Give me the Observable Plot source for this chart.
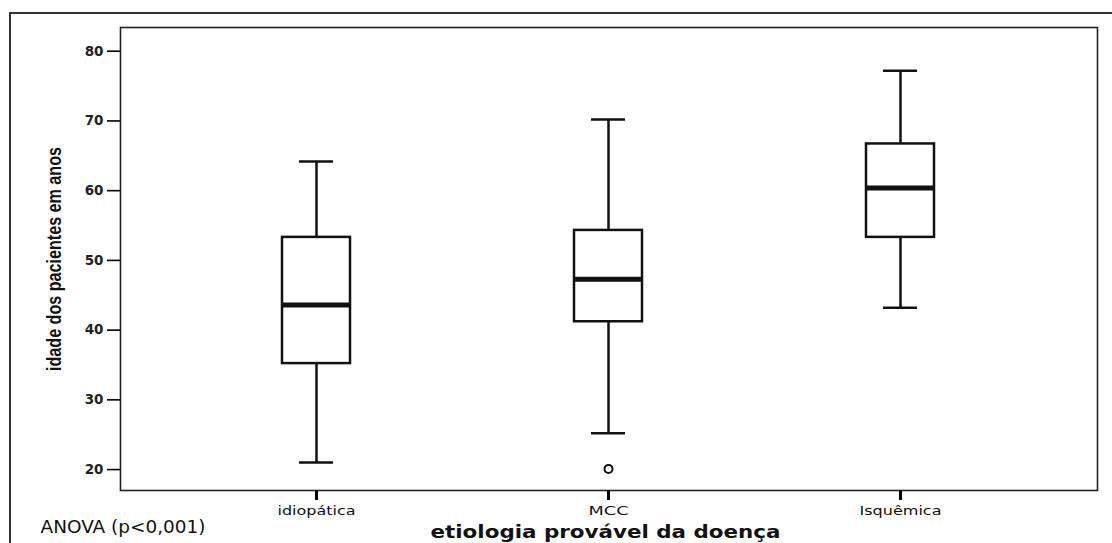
<!DOCTYPE html>
<html><head><meta charset="utf-8">
<script src="https://cdn.jsdelivr.net/npm/d3@7"></script>
<script src="https://cdn.jsdelivr.net/npm/@observablehq/plot@0.6"></script>
<style>
html,body{margin:0;padding:0;background:#fff;overflow:hidden;}
#wrap{position:relative;width:1112px;height:543px;}
#outer{position:absolute;left:9px;top:12px;width:1200px;height:600px;border:2px solid #333;box-sizing:border-box;pointer-events:none;}
</style></head>
<body><div id="wrap"><div id="outer"></div><div id="chart"></div></div>
<script>
const categories = ["idiopática", "MCC", "Isquêmica"];
const whiskerLow = [21, 25.2, 43.2];
const q1 = [35.2, 41.2, 53.3];
const median = [43.6, 47.3, 60.4];
const q3 = [53.3, 54.3, 66.7];
const whiskerHigh = [64.2, 70.2, 77.2];
const outlierCats = ["MCC"];
const outlierValues = [20.1];
const yTicks = [20, 30, 40, 50, 60, 70, 80];
const yLabel = "idade dos pacientes em anos";
const xLabel = "etiologia provável da doença";
const note = "ANOVA (p<0,001)";

const boxes = categories.map((c, i) => ({cat: c, lo: whiskerLow[i], q1: q1[i], med: median[i], q3: q3[i], hi: whiskerHigh[i]}));
const outliers = outlierCats.map((c, i) => ({cat: c, v: outlierValues[i]}));

const chart = Plot.plot({
  width: 1112, height: 543,
  marginLeft: 120, marginRight: 15, marginTop: 27, marginBottom: 53,
  style: {fontFamily: "'DejaVu Sans', Verdana, sans-serif", background: "transparent"},
  x: {type: "band", domain: categories, paddingInner: 0.767, paddingOuter: 0.553},
  y: {domain: [17, 83.4]},
  marks: [
    Plot.ruleX(boxes, {x: "cat", y1: "q3", y2: "hi", stroke: "#111", strokeWidth: 2.5}),
    Plot.ruleX(boxes, {x: "cat", y1: "lo", y2: "q1", stroke: "#111", strokeWidth: 2.5}),
    Plot.tickY(boxes, {x: "cat", y: "hi", stroke: "#111", strokeWidth: 2.5, insetLeft: 17, insetRight: 17}),
    Plot.tickY(boxes, {x: "cat", y: "lo", stroke: "#111", strokeWidth: 2.5, insetLeft: 17, insetRight: 17}),
    Plot.barY(boxes, {x: "cat", y1: "q1", y2: "q3", fill: "white", stroke: "#111", strokeWidth: 2.5}),
    Plot.tickY(boxes, {x: "cat", y: "med", stroke: "#111", strokeWidth: 5}),
    Plot.dot(outliers, {x: "cat", y: "v", r: 4, stroke: "#111", strokeWidth: 2, fill: "white"}),
    Plot.frame({stroke: "#222", strokeWidth: 1.6}),
    Plot.axisY({ticks: yTicks, tickSize: 13, tickPadding: 4, strokeWidth: 1.6, fontSize: 13.5, fontWeight: "bold", label: null, fill: "#222"}),
    Plot.axisX({tickSize: 10, tickPadding: 5, strokeWidth: 3, fontSize: 13, label: null, fill: "#111"}),
    Plot.text([xLabel], {frameAnchor: "bottom", dx: -178.5, dy: 42, textAnchor: "start", fontSize: 17, fontWeight: "bold", fill: "#111", lineAnchor: "middle"}),
    Plot.text([yLabel], {frameAnchor: "left", dx: -66, dy: 112, rotate: -90, textAnchor: "start", fontSize: 20, fontWeight: "bold", fill: "#111", fontFamily: "'Liberation Sans', Arial, sans-serif", lineAnchor: "middle"}),
    Plot.text([note], {frameAnchor: "bottom-left", dx: -80, dy: 37, textAnchor: "start", lineAnchor: "middle", fontSize: 18, fill: "#111"})
  ]
});
document.getElementById("chart").appendChild(chart);
const lengths = {};
lengths[yLabel] = 224;
lengths[xLabel] = 350;
lengths[note] = 165;
lengths["idiopática"] = 78;
lengths["MCC"] = 40;
lengths["Isquêmica"] = 82;
d3.select(chart).selectAll("text").each(function() {
  const t = this.textContent;
  if (lengths[t]) {
    this.setAttribute("textLength", lengths[t]);
    this.setAttribute("lengthAdjust", "spacingAndGlyphs");
  }
});
</script>
</body></html>
